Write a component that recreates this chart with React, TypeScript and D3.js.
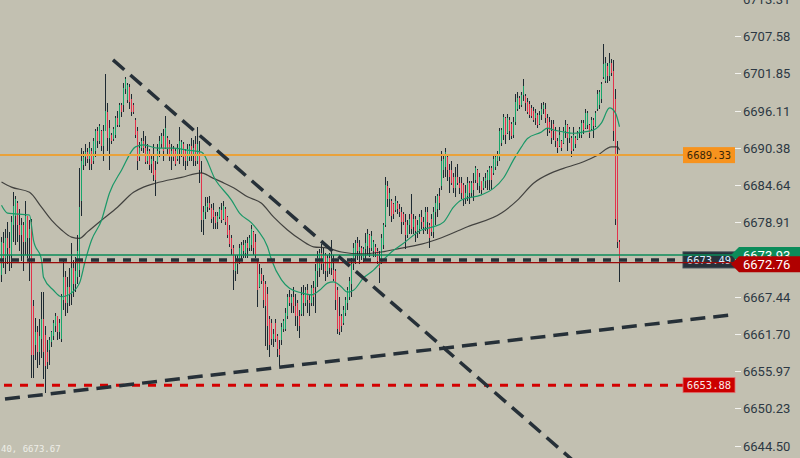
import React from 'react'
import * as d3 from 'd3'

// candle data, one per bar (oldest first)
const opens = [
  6670.8, 6675.8, 6673.5, 6676.5, 6675.0, 6674.0, 6678.5, 6680.0, 6682.0, 6678.5,
  6677.0, 6678.5, 6676.0, 6680.0, 6676.5, 6679.0, 6666.0, 6660.0, 6662.0, 6659.0,
  6661.0, 6664.0, 6661.6, 6659.0, 6659.3, 6660.5, 6661.5, 6663.0, 6664.5, 6662.0,
  6661.0, 6667.0, 6670.5, 6666.5, 6669.0, 6668.0, 6672.0, 6669.5, 6670.5, 6671.6,
  6682.3, 6687.8, 6689.0, 6689.8, 6688.8, 6690.0, 6688.5, 6690.0, 6693.0, 6691.5,
  6693.0, 6690.8, 6693.1, 6696.0, 6692.0, 6692.5, 6691.8, 6692.5, 6695.0, 6694.0,
  6697.0, 6697.0, 6699.5, 6697.8, 6699.8, 6698.0, 6697.0, 6694.8, 6693.0, 6689.0,
  6690.5, 6691.5, 6690.4, 6688.5, 6690.0, 6688.0, 6688.5, 6687.0, 6688.3, 6690.0,
  6691.0, 6692.3, 6690.5, 6692.0, 6691.0, 6689.0, 6690.3, 6690.0, 6688.8, 6690.5,
  6689.5, 6691.0, 6690.0, 6688.5, 6689.0, 6690.8, 6689.5, 6691.0, 6688.5, 6690.0,
  6686.5, 6679.3, 6680.5, 6681.3, 6682.0, 6681.2, 6680.8, 6680.0, 6679.0, 6679.8,
  6680.8, 6679.5, 6681.0, 6679.8, 6677.8, 6676.5, 6675.0, 6671.5, 6672.5, 6673.0,
  6674.0, 6675.5, 6674.3, 6675.8, 6675.0, 6675.5, 6677.5, 6676.0, 6673.0, 6669.0,
  6671.0, 6670.0, 6669.5, 6668.0, 6664.0, 6663.5, 6661.0, 6663.5, 6661.5, 6659.5,
  6660.8, 6662.5, 6662.5, 6664.5, 6667.5, 6666.5, 6667.5, 6666.0, 6666.5, 6664.5,
  6664.8, 6667.7, 6666.5, 6668.5, 6667.0, 6666.5, 6668.8, 6669.0, 6671.5, 6672.0,
  6674.3, 6672.5, 6674.0, 6671.5, 6673.5, 6672.0, 6671.6, 6671.5, 6668.5, 6664.5,
  6664.5, 6663.5, 6665.0, 6666.5, 6667.5, 6669.5, 6672.5, 6674.0, 6675.8, 6674.5,
  6675.0, 6673.5, 6674.8, 6675.4, 6677.0, 6675.0, 6674.5, 6675.2, 6674.5, 6673.0,
  6673.0, 6675.5, 6678.5, 6684.5, 6682.5, 6682.3, 6681.8, 6680.8, 6682.0, 6681.0,
  6680.5, 6680.2, 6679.0, 6677.0, 6678.5, 6680.3, 6678.2, 6679.5, 6677.7, 6678.0,
  6679.8, 6679.0, 6678.2, 6680.5, 6678.5, 6679.5, 6677.5, 6680.5, 6681.0, 6683.0,
  6684.5, 6687.0, 6687.5, 6689.0, 6687.0, 6687.0, 6686.0, 6684.2, 6686.0, 6685.0,
  6685.0, 6684.8, 6682.5, 6683.0, 6685.0, 6683.5, 6685.0, 6685.5, 6687.0, 6684.5,
  6685.3, 6684.2, 6685.3, 6685.5, 6685.5, 6687.3, 6686.5, 6687.5, 6688.5, 6689.0,
  6691.2, 6692.5, 6695.0, 6692.8, 6694.8, 6694.2, 6692.5, 6694.5, 6696.4, 6698.2,
  6697.0, 6698.6, 6698.5, 6697.5, 6697.2, 6696.6, 6696.2, 6695.0, 6695.5, 6694.2,
  6695.5, 6696.5, 6696.5, 6695.0, 6694.5, 6693.0, 6694.2, 6693.0, 6691.5, 6690.8,
  6691.5, 6691.2, 6693.0, 6694.0, 6692.0, 6692.0, 6690.2, 6692.0, 6691.8, 6692.8,
  6692.5, 6694.3, 6693.5, 6694.0, 6694.0, 6693.3, 6694.8, 6693.8, 6696.4, 6697.0,
  6698.0, 6701.3, 6700.8, 6703.0, 6701.5, 6703.5, 6702.3, 6698.0, 6689.5, 6676.0,
]

const highs = [
  6676.7, 6677.5, 6678.0, 6679.0, 6677.5, 6680.0, 6683.6, 6683.1, 6682.3, 6681.0,
  6679.7, 6679.0, 6682.3, 6680.0, 6679.3, 6679.5, 6667.0, 6664.2, 6663.0, 6664.0,
  6668.2, 6668.2, 6663.0, 6660.8, 6661.3, 6662.3, 6663.9, 6665.0, 6664.6, 6664.0,
  6668.0, 6673.1, 6671.5, 6670.5, 6672.0, 6675.8, 6673.1, 6673.6, 6677.0, 6687.3,
  6690.4, 6690.0, 6691.1, 6690.4, 6691.3, 6690.5, 6692.0, 6693.4, 6693.6, 6694.2,
  6693.2, 6693.9, 6701.9, 6697.3, 6694.7, 6692.7, 6693.6, 6695.4, 6696.2, 6697.4,
  6697.4, 6700.4, 6701.3, 6700.4, 6700.3, 6698.8, 6697.3, 6695.1, 6693.6, 6691.3,
  6692.0, 6693.1, 6692.3, 6691.1, 6690.3, 6689.5, 6691.1, 6688.5, 6691.1, 6692.3,
  6692.7, 6693.4, 6695.4, 6692.3, 6691.6, 6691.1, 6690.8, 6690.5, 6691.1, 6693.6,
  6691.6, 6691.3, 6690.2, 6691.1, 6691.1, 6692.0, 6691.6, 6692.3, 6693.6, 6691.5,
  6688.5, 6681.5, 6682.8, 6682.8, 6683.1, 6681.8, 6682.0, 6680.5, 6680.5, 6681.3,
  6682.0, 6682.3, 6681.3, 6680.0, 6678.5, 6677.0, 6675.5, 6674.0, 6674.0, 6675.7,
  6676.0, 6676.2, 6676.2, 6676.7, 6677.0, 6678.5, 6677.7, 6677.2, 6673.1, 6672.6,
  6672.0, 6670.8, 6670.0, 6669.0, 6664.5, 6664.0, 6662.5, 6664.0, 6661.8, 6660.8,
  6663.5, 6664.0, 6665.7, 6668.0, 6668.5, 6668.0, 6669.0, 6668.0, 6667.0, 6665.5,
  6669.0, 6669.3, 6669.0, 6669.5, 6668.0, 6669.3, 6670.0, 6672.6, 6674.6, 6674.9,
  6675.7, 6675.0, 6674.2, 6674.0, 6674.2, 6676.2, 6674.0, 6671.8, 6669.0, 6667.5,
  6664.8, 6666.0, 6667.5, 6669.0, 6670.5, 6673.4, 6675.8, 6676.2, 6676.7, 6676.2,
  6675.4, 6675.1, 6677.4, 6678.0, 6677.2, 6677.7, 6676.2, 6675.6, 6675.0, 6674.6,
  6677.2, 6678.8, 6685.9, 6685.4, 6684.3, 6682.5, 6682.0, 6683.0, 6682.3, 6681.8,
  6681.3, 6680.5, 6680.3, 6679.3, 6680.3, 6683.4, 6680.3, 6680.0, 6679.3, 6680.3,
  6680.8, 6679.8, 6681.3, 6681.3, 6678.8, 6680.3, 6681.3, 6683.0, 6683.4, 6684.3,
  6690.0, 6689.5, 6690.5, 6689.3, 6688.0, 6688.5, 6686.5, 6687.5, 6688.0, 6685.9,
  6685.9, 6685.0, 6684.8, 6685.9, 6685.4, 6685.4, 6686.5, 6687.7, 6687.2, 6686.6,
  6685.4, 6685.9, 6686.5, 6687.0, 6687.7, 6687.7, 6689.3, 6689.3, 6689.9, 6693.5,
  6693.5, 6695.7, 6695.2, 6695.7, 6695.2, 6694.5, 6695.2, 6698.8, 6699.0, 6698.5,
  6699.0, 6701.0, 6698.8, 6698.2, 6697.7, 6697.0, 6696.8, 6696.5, 6695.8, 6696.2,
  6697.3, 6697.5, 6697.3, 6695.7, 6695.2, 6694.7, 6694.7, 6693.6, 6692.0, 6693.6,
  6691.6, 6693.6, 6694.7, 6694.2, 6693.6, 6692.3, 6693.6, 6692.3, 6693.1, 6693.6,
  6694.7, 6694.7, 6696.5, 6696.2, 6694.2, 6695.2, 6695.0, 6696.2, 6699.3, 6699.3,
  6700.6, 6706.4, 6704.5, 6703.5, 6705.0, 6704.2, 6704.0, 6699.5, 6691.5, 6676.2,
]

const lows = [
  6669.8, 6672.0, 6671.0, 6672.5, 6671.5, 6672.0, 6676.0, 6675.5, 6676.0, 6674.5,
  6673.0, 6671.5, 6674.0, 6673.5, 6670.0, 6655.0, 6655.0, 6657.7, 6656.5, 6657.0,
  6658.0, 6654.8, 6652.6, 6656.3, 6657.0, 6659.8, 6660.8, 6662.0, 6660.8, 6661.0,
  6660.5, 6665.4, 6664.5, 6665.0, 6666.0, 6666.2, 6667.5, 6668.2, 6669.5, 6670.5,
  6680.0, 6687.0, 6687.7, 6688.1, 6687.0, 6687.0, 6688.0, 6689.0, 6690.5, 6691.0,
  6690.0, 6688.5, 6693.0, 6690.0, 6687.0, 6691.1, 6691.5, 6692.0, 6693.6, 6693.6,
  6695.2, 6696.0, 6698.8, 6697.3, 6696.5, 6695.4, 6695.7, 6692.0, 6687.0, 6688.5,
  6690.0, 6689.6, 6687.9, 6688.0, 6687.0, 6686.5, 6685.4, 6683.1, 6688.0, 6689.0,
  6690.5, 6688.5, 6690.2, 6689.5, 6688.5, 6687.0, 6688.5, 6687.7, 6688.5, 6688.0,
  6689.0, 6687.7, 6687.0, 6687.7, 6688.5, 6688.5, 6687.7, 6687.7, 6688.0, 6685.0,
  6677.5, 6677.0, 6679.5, 6680.5, 6680.8, 6678.8, 6678.0, 6678.0, 6678.0, 6679.5,
  6678.8, 6679.3, 6678.5, 6676.5, 6675.2, 6674.0, 6668.5, 6670.0, 6671.0, 6672.6,
  6673.1, 6673.5, 6673.5, 6673.5, 6674.6, 6674.6, 6674.0, 6673.5, 6665.9, 6668.8,
  6669.5, 6665.8, 6659.9, 6659.3, 6658.2, 6660.0, 6659.8, 6660.5, 6658.2, 6656.9,
  6660.0, 6662.0, 6662.3, 6664.0, 6666.0, 6665.0, 6665.0, 6663.0, 6662.3, 6661.2,
  6664.5, 6664.5, 6666.0, 6665.0, 6664.5, 6666.0, 6666.0, 6665.0, 6669.0, 6670.5,
  6671.6, 6671.0, 6670.0, 6670.5, 6671.0, 6670.8, 6670.0, 6665.5, 6661.8, 6661.6,
  6662.0, 6663.2, 6664.5, 6665.4, 6667.0, 6667.5, 6671.6, 6672.6, 6673.1, 6672.6,
  6673.1, 6672.8, 6673.1, 6674.0, 6673.6, 6674.6, 6673.6, 6673.6, 6672.6, 6669.6,
  6672.5, 6674.8, 6678.2, 6681.3, 6680.0, 6679.0, 6679.5, 6680.5, 6680.3, 6679.8,
  6677.2, 6678.5, 6674.8, 6676.6, 6677.2, 6677.2, 6677.2, 6676.0, 6676.5, 6677.2,
  6678.0, 6677.2, 6677.7, 6677.2, 6675.0, 6676.8, 6676.6, 6678.5, 6679.8, 6680.8,
  6684.0, 6685.8, 6686.0, 6685.4, 6683.5, 6684.8, 6683.5, 6682.8, 6684.8, 6683.4,
  6682.5, 6681.5, 6681.8, 6682.3, 6681.8, 6682.8, 6682.3, 6685.0, 6684.0, 6683.5,
  6683.4, 6684.0, 6684.3, 6684.0, 6684.0, 6684.0, 6686.3, 6687.0, 6687.7, 6688.5,
  6690.8, 6691.6, 6691.1, 6692.6, 6691.6, 6691.8, 6692.0, 6694.0, 6696.2, 6696.5,
  6696.7, 6697.7, 6696.2, 6695.7, 6695.0, 6695.0, 6694.5, 6694.0, 6693.5, 6694.0,
  6694.7, 6695.7, 6694.3, 6692.3, 6692.8, 6691.1, 6691.6, 6690.6, 6689.6, 6690.6,
  6690.0, 6691.1, 6692.0, 6690.0, 6691.2, 6689.0, 6690.0, 6690.5, 6691.6, 6692.0,
  6692.0, 6692.6, 6693.3, 6693.3, 6692.0, 6693.1, 6692.0, 6693.6, 6696.2, 6696.5,
  6697.3, 6701.0, 6700.5, 6700.5, 6700.8, 6701.5, 6691.5, 6678.5, 6675.0, 6669.7,
]

const closes = [
  6676.0, 6673.5, 6676.5, 6675.0, 6674.0, 6679.0, 6681.5, 6682.5, 6678.5, 6677.0,
  6678.5, 6676.0, 6680.0, 6676.5, 6678.0, 6658.5, 6658.5, 6662.0, 6659.0, 6661.5,
  6664.0, 6659.0, 6656.9, 6657.4, 6660.8, 6662.0, 6663.5, 6664.5, 6662.0, 6663.5,
  6667.5, 6670.5, 6666.5, 6669.0, 6668.0, 6672.0, 6669.5, 6671.5, 6674.5, 6681.3,
  6688.5, 6689.0, 6689.8, 6688.8, 6690.5, 6688.0, 6691.5, 6693.0, 6691.5, 6693.8,
  6690.8, 6693.0, 6696.2, 6692.0, 6693.5, 6691.5, 6693.3, 6695.0, 6694.0, 6697.0,
  6696.0, 6699.6, 6701.0, 6700.2, 6697.5, 6696.0, 6696.0, 6692.5, 6688.5, 6690.5,
  6691.5, 6690.5, 6688.2, 6690.0, 6687.8, 6688.8, 6686.2, 6685.5, 6690.0, 6691.5,
  6692.3, 6690.0, 6693.5, 6690.3, 6689.0, 6690.0, 6689.0, 6688.0, 6690.5, 6691.5,
  6691.3, 6689.0, 6688.5, 6690.3, 6690.8, 6689.5, 6690.5, 6688.5, 6691.0, 6687.0,
  6679.3, 6680.5, 6681.5, 6682.0, 6681.2, 6679.5, 6679.8, 6678.8, 6680.0, 6681.0,
  6679.3, 6681.5, 6679.0, 6677.0, 6675.6, 6674.8, 6671.6, 6673.0, 6673.5, 6675.0,
  6675.5, 6674.5, 6675.8, 6675.0, 6676.6, 6678.0, 6675.0, 6674.0, 6668.5, 6671.0,
  6670.0, 6667.0, 6666.0, 6663.0, 6660.0, 6661.0, 6661.8, 6661.0, 6659.5, 6658.5,
  6662.8, 6663.8, 6665.0, 6667.5, 6666.5, 6667.5, 6666.0, 6664.5, 6664.5, 6663.0,
  6667.7, 6666.5, 6668.5, 6667.0, 6666.5, 6668.8, 6667.5, 6671.5, 6673.5, 6674.3,
  6672.5, 6674.0, 6671.5, 6673.5, 6672.0, 6673.5, 6670.2, 6667.0, 6662.5, 6662.0,
  6663.0, 6665.5, 6667.0, 6668.5, 6670.0, 6672.6, 6675.0, 6675.8, 6674.5, 6675.2,
  6673.8, 6674.8, 6675.8, 6677.2, 6675.0, 6676.8, 6676.0, 6674.2, 6673.0, 6672.0,
  6676.5, 6678.5, 6684.7, 6682.5, 6683.5, 6680.0, 6680.3, 6682.3, 6681.0, 6680.5,
  6679.0, 6679.0, 6677.0, 6678.5, 6679.5, 6678.0, 6679.5, 6677.7, 6678.6, 6679.8,
  6679.0, 6678.2, 6680.5, 6679.0, 6676.5, 6677.5, 6680.5, 6682.0, 6683.0, 6682.0,
  6688.5, 6688.8, 6689.8, 6687.0, 6686.0, 6685.0, 6684.2, 6686.0, 6685.0, 6684.2,
  6683.5, 6682.5, 6683.5, 6685.0, 6683.5, 6685.0, 6684.0, 6687.3, 6685.0, 6686.0,
  6684.0, 6685.3, 6685.8, 6686.7, 6687.3, 6685.5, 6688.8, 6689.0, 6689.5, 6693.0,
  6693.2, 6695.2, 6692.5, 6695.0, 6693.0, 6692.3, 6694.5, 6697.5, 6698.2, 6697.0,
  6698.6, 6700.0, 6697.3, 6696.0, 6695.5, 6695.3, 6694.8, 6695.8, 6694.0, 6695.5,
  6696.5, 6697.0, 6695.0, 6693.5, 6693.0, 6692.0, 6693.0, 6691.5, 6690.5, 6692.5,
  6690.5, 6693.0, 6694.0, 6692.0, 6693.3, 6690.0, 6692.5, 6691.0, 6692.8, 6693.3,
  6694.3, 6693.2, 6695.8, 6695.8, 6692.8, 6694.8, 6693.8, 6695.8, 6698.8, 6699.0,
  6700.3, 6703.4, 6703.6, 6701.5, 6703.5, 6702.0, 6693.0, 6679.5, 6676.0, 6672.76,
]

// moving averages: [bar index, value]
const fastMa = [
  [0, 6681.6], [3, 6680.4], [14, 6680.1], [16, 6676.2], [20, 6673.2], [21, 6670.5],
  [26, 6668.5], [30, 6667.5], [35, 6668.1], [39, 6669.6], [42, 6673.2], [45, 6676.2],
  [50, 6679.3], [54, 6683.5], [60, 6687.0], [67, 6690.6], [71, 6690.9], [78, 6690.4],
  [86, 6690.4], [93, 6690.1], [100, 6689.8], [107, 6685.5], [115, 6682.4], [119, 6680.4],
  [125, 6678.9], [128, 6677.8], [133, 6675.2], [135, 6673.2], [140, 6670.1], [144, 6668.8],
  [150, 6668.1], [155, 6667.8], [159, 6668.5], [163, 6669.6], [166, 6669.8], [170, 6669.0],
  [173, 6668.2], [176, 6668.5], [181, 6670.4], [186, 6671.6], [190, 6672.9], [195, 6674.4],
  [200, 6675.5], [210, 6677.8], [216, 6678.3], [221, 6679.0], [226, 6681.3], [230, 6682.4],
  [240, 6683.2], [246, 6684.2], [251, 6685.8], [256, 6688.6], [260, 6690.6], [263, 6691.9],
  [270, 6692.9], [273, 6693.5], [276, 6693.2], [281, 6692.9], [286, 6692.7], [291, 6692.9],
  [296, 6693.2], [300, 6694.3], [304, 6696.6], [307, 6695.8], [309, 6693.7],
]

const slowMa = [
  [0, 6685.2], [5, 6684.4], [14, 6683.6], [20, 6681.3], [25, 6679.3], [30, 6677.8],
  [35, 6676.7], [39, 6676.5], [43, 6677.5], [50, 6679.3], [58, 6681.3], [66, 6683.6],
  [71, 6684.4], [77, 6685.0], [90, 6685.9], [100, 6686.6], [105, 6685.9], [110, 6685.2],
  [116, 6684.3], [123, 6682.9], [130, 6681.9], [136, 6679.8], [143, 6677.8], [150, 6676.2],
  [156, 6675.2], [163, 6675.0], [170, 6674.4], [180, 6674.1], [190, 6674.4], [200, 6675.0],
  [210, 6675.6], [220, 6676.6], [233, 6678.3], [250, 6680.4], [258, 6682.4], [266, 6685.0],
  [275, 6686.6], [283, 6687.5], [291, 6688.3], [298, 6689.3], [305, 6690.6], [308, 6690.6],
  [309, 6690.1],
]

// drawn trend lines: [bar index, price]
const trendDown = [[55.75, 6704.0], [286.75, 6642.0]]
const trendUp = [[1.75, 6651.74], [364.25, 6664.69]]

// horizontal levels
const orangeLevel = 6689.33
const redLevel = 6653.88
const greenLevel = 6673.93
const lastPrice = 6672.76
const dashLevel = 6673.18
const dashLabel = '6673.49'
const cursorText = '40, 6673.67'

const tickValues = [
  6713.31, 6707.58, 6701.85, 6696.11, 6690.38, 6684.64, 6678.91,
  6673.18, 6667.44, 6661.70, 6655.97, 6650.23, 6644.50,
]

const W = 800
const H = 458
const axisX = 735
const boxL = 683

const UP = '#17a56b'
const DOWN = '#e2334c'
const WICK = '#1e2a32'
const DARK = '#263038'

export default function App() {
  const x = d3.scaleLinear().domain([0, opens.length - 1]).range([1.5, 2 * (opens.length - 1) + 1.5])
  const y = d3.scaleLinear().domain([6644.5, 6707.58]).range([446, 36.7])

  const maLine = d3.line<number[]>()
    .x(d => x(d[0]))
    .y(d => y(d[1]))
    .curve(d3.curveMonotoneX)
  const straight = d3.line<number[]>().x(d => x(d[0])).y(d => y(d[1]))

  const yo = y(orangeLevel)
  const yr = y(redLevel)
  const yg = y(greenLevel)
  const yl = y(lastPrice)
  const yd = y(dashLevel)

  const mono = '"DejaVu Sans Mono", monospace'
  const sans = 'Roboto, "Noto Sans", sans-serif'

  // right flag label with a left pointing tip
  const flag = (top: number, h: number) => {
    const tipX = 731
    const left = 739
    return `M${tipX},${top + h / 2} L${left},${top} L${W},${top} L${W},${top + h} L${left},${top + h} Z`
  }

  return (
    <svg width={W} height={H} style={{ position: 'absolute', left: 0, top: 0, display: 'block' }}>
      <rect width={W} height={H} fill="#c2c0b1" />

      {/* candles */}
      <g shapeRendering="crispEdges">
        {opens.map((o, i) => {
          const c = closes[i]
          const hi = Math.max(highs[i], o, c)
          const lo = Math.min(lows[i], o, c)
          const col = Math.round(x(i) - 0.5)
          const top = y(Math.max(o, c))
          const bh = Math.max(1, y(Math.min(o, c)) - top)
          return (
            <g key={i}>
              <rect x={col} y={y(hi)} width={1} height={y(lo) - y(hi)} fill={WICK} />
              <rect x={col} y={top} width={1} height={bh} fill={c >= o ? UP : DOWN} />
            </g>
          )
        })}
      </g>

      {/* moving averages */}
      <path d={maLine(slowMa) || ''} fill="none" stroke="#2b2b2b" strokeWidth={1.2} strokeOpacity={0.85} />
      <path d={maLine(fastMa) || ''} fill="none" stroke="#1a9868" strokeWidth={1.2} />

      {/* horizontal levels */}
      <line x1={0} x2={boxL} y1={yo} y2={yo} stroke="#e9a23b" strokeWidth={2} />
      <line x1={0} x2={boxL} y1={yr} y2={yr} stroke="#d40000" strokeWidth={3} strokeDasharray="8 8" strokeDashoffset={-4} />

      <rect x={boxL} y={yd - 8} width={axisX - boxL} height={16} fill="#27313a" stroke="#3d4852" strokeWidth={1} />
      <text x={(boxL + axisX) / 2} y={yd + 4} textAnchor="middle" fontFamily={mono} fontSize={10.5} fill="#dcecff">{dashLabel}</text>

      <line x1={0} x2={axisX} y1={yg} y2={yg} stroke="#0b8c5a" strokeWidth={1.5} />
      <line x1={0} x2={axisX} y1={yl} y2={yl} stroke="#9a0a0a" strokeWidth={1.2} />
      <line x1={0} x2={boxL} y1={yd} y2={yd} stroke={DARK} strokeWidth={3.5} strokeDasharray="8 8" strokeDashoffset={-11} />

      {/* trend lines */}
      <path d={straight(trendDown) || ''} stroke={DARK} strokeWidth={3.5} strokeDasharray="15 8" fill="none" />
      <path d={straight(trendUp) || ''} stroke={DARK} strokeWidth={3.5} strokeDasharray="15 8" fill="none" />

      {/* level labels */}
      <rect x={boxL} y={yo - 8} width={axisX - boxL} height={16} fill="#f7931e" />
      <text x={(boxL + axisX) / 2} y={yo + 4} textAnchor="middle" fontFamily={mono} fontSize={10.5} fill="#3b2608">{orangeLevel.toFixed(2)}</text>
      <rect x={boxL} y={yr - 7.5} width={axisX - boxL} height={15} fill="#cc0000" stroke="#e27070" strokeWidth={0.8} />
      <text x={(boxL + axisX) / 2} y={yr + 4} textAnchor="middle" fontFamily={mono} fontSize={10.5} fill="#f8e8e8">{redLevel.toFixed(2)}</text>

      {/* right axis */}
      <g>
        {tickValues.map(v => (
          <g key={v} transform={`translate(0,${y(v)})`}>
            <line x1={axisX} x2={axisX + 6} stroke="#f2f2ee" strokeWidth={1} shapeRendering="crispEdges" />
            <text x={axisX + 8} dy="0.35em" fontFamily={sans} fontSize={13} fill="#2c3843">{v.toFixed(2)}</text>
          </g>
        ))}
      </g>

      {/* price flags */}
      <path d={flag(yg - 8, 16)} fill="#0b8c5a" />
      <text x={743} y={yg + 4.5} fontFamily={sans} fontSize={13} fill="#ffffff">{greenLevel.toFixed(2)}</text>
      <path d={flag(yl - 6.5, 16)} fill="#b00000" />
      <text x={743} y={yl + 6} fontFamily={sans} fontSize={13} fill="#ffffff">{lastPrice.toFixed(2)}</text>

      <text x={1} y={452} fontFamily={mono} fontSize={9} fill="#eeeee8">{cursorText}</text>
    </svg>
  )
}
